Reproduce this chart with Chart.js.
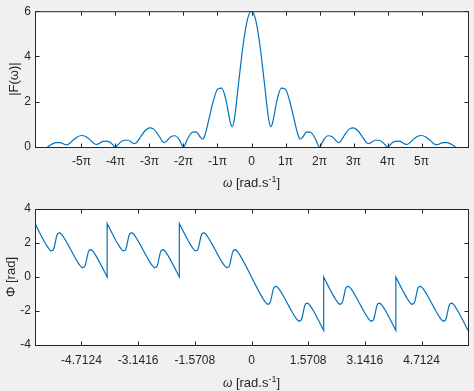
<!DOCTYPE html>
<html>
<head>
<meta charset="utf-8">
<script src="https://cdn.jsdelivr.net/npm/chart.js@4.4.1/dist/chart.umd.min.js"></script>
<style>
  html, body { margin: 0; padding: 0; background: #f0f0f0; }
  #wrap { position: relative; width: 474px; height: 391px; }
  canvas { position: absolute; left: 0; }
</style>
</head>
<body>
<div id="wrap">
  <canvas id="magChart" width="474" height="195" style="top:0px"></canvas>
  <canvas id="phaseChart" width="474" height="196" style="top:195px"></canvas>
</div>
<script>
// top plot: |F(w)|, w given in multiples of pi
const magW = [
  -6, -5.875, -5.75, -5.625, -5.5, -5.433, -5.375, -5.25, -5.125, -5,
  -4.875, -4.75, -4.625, -4.567, -4.5, -4.375, -4.25, -4.125, -4,
  -3.875, -3.75, -3.625, -3.5, -3.433, -3.375, -3.25, -3.125, -3,
  -2.875, -2.75, -2.625, -2.567, -2.5, -2.375, -2.25, -2.125, -2,
  -1.875, -1.75, -1.625, -1.5, -1.433, -1.375, -1.25, -1.125, -1,
  -0.875, -0.75, -0.625, -0.567, -0.5, -0.375, -0.25, -0.125,
  0,
  0.125, 0.25, 0.375, 0.5, 0.567, 0.625, 0.75, 0.875,
  1, 1.125, 1.25, 1.375, 1.433, 1.5, 1.625, 1.75, 1.875,
  2, 2.125, 2.25, 2.375, 2.5, 2.567, 2.625, 2.75, 2.875,
  3, 3.125, 3.25, 3.375, 3.433, 3.5, 3.625, 3.75, 3.875,
  4, 4.125, 4.25, 4.375, 4.5, 4.567, 4.625, 4.75, 4.875,
  5, 5.125, 5.25, 5.375, 5.433, 5.5, 5.625, 5.75, 5.875, 6
];
const magF = [
  0, 0.119, 0.194, 0.192, 0.116, 0.093, 0.128, 0.295, 0.443, 0.509,
  0.466, 0.326, 0.149, 0.111, 0.141, 0.247, 0.263, 0.170, 0,
  0.181, 0.298, 0.298, 0.182, 0.147, 0.204, 0.476, 0.727, 0.849,
  0.790, 0.563, 0.262, 0.197, 0.255, 0.455, 0.497, 0.329, 0,
  0.373, 0.639, 0.665, 0.424, 0.353, 0.500, 1.239, 2.020, 2.547,
  2.597, 2.064, 1.100, 0.891, 1.273, 2.883, 4.473, 5.596,
  6,
  5.596, 4.473, 2.883, 1.273, 0.891, 1.100, 2.064, 2.597,
  2.547, 2.020, 1.239, 0.500, 0.353, 0.424, 0.665, 0.639, 0.373,
  0, 0.329, 0.497, 0.455, 0.255, 0.197, 0.262, 0.563, 0.790,
  0.849, 0.727, 0.476, 0.204, 0.147, 0.182, 0.298, 0.298, 0.181,
  0, 0.170, 0.263, 0.247, 0.141, 0.111, 0.149, 0.326, 0.466,
  0.509, 0.443, 0.295, 0.128, 0.093, 0.116, 0.192, 0.194, 0.119, 0
];
const magTicks = [-5, -4, -3, -2, -1, 0, 1, 2, 3, 4, 5];
const magYTicks = [0, 2, 4, 6];

// bottom plot: phase
const phaseW = [
  -6, -5.9375, -5.875, -5.8125, -5.75, -5.6875, -5.625, -5.5625, -5.5, -5.46875, -5.4375, -5.40625,
  -5.375, -5.3125, -5.25, -5.1875, -5.125, -5.0625, -5, -4.9375, -4.875, -4.8125, -4.75, -4.6875,
  -4.625, -4.59375, -4.5625, -4.53125, -4.5, -4.4375, -4.375, -4.3125, -4.25, -4.1875, -4.125, -4.0625, -4,
  -4, -3.9375, -3.875, -3.8125, -3.75, -3.6875, -3.625, -3.5625, -3.5, -3.46875, -3.4375, -3.40625,
  -3.375, -3.3125, -3.25, -3.1875, -3.125, -3.0625, -3, -2.9375, -2.875, -2.8125, -2.75, -2.6875,
  -2.625, -2.59375, -2.5625, -2.53125, -2.5, -2.4375, -2.375, -2.3125, -2.25, -2.1875, -2.125, -2.0625, -2,
  -2, -1.9375, -1.875, -1.8125, -1.75, -1.6875, -1.625, -1.5625, -1.5, -1.46875, -1.4375, -1.40625,
  -1.375, -1.3125, -1.25, -1.1875, -1.125, -1.0625, -1, -0.9375, -0.875, -0.8125, -0.75, -0.6875,
  -0.625, -0.59375, -0.5625, -0.53125, -0.5, -0.4375, -0.375, -0.3125, -0.25, -0.1875, -0.125, -0.0625, 0,
  0.0625, 0.125, 0.1875, 0.25, 0.3125, 0.375, 0.4375, 0.5, 0.53125, 0.5625, 0.59375,
  0.625, 0.6875, 0.75, 0.8125, 0.875, 0.9375, 1, 1.0625, 1.125, 1.1875, 1.25, 1.3125,
  1.375, 1.40625, 1.4375, 1.46875, 1.5, 1.5625, 1.625, 1.6875, 1.75, 1.8125, 1.875, 1.9375, 2,
  2, 2.0625, 2.125, 2.1875, 2.25, 2.3125, 2.375, 2.4375, 2.5, 2.53125, 2.5625, 2.59375,
  2.625, 2.6875, 2.75, 2.8125, 2.875, 2.9375, 3, 3.0625, 3.125, 3.1875, 3.25, 3.3125,
  3.375, 3.40625, 3.4375, 3.46875, 3.5, 3.5625, 3.625, 3.6875, 3.75, 3.8125, 3.875, 3.9375, 4,
  4, 4.0625, 4.125, 4.1875, 4.25, 4.3125, 4.375, 4.4375, 4.5, 4.53125, 4.5625, 4.59375,
  4.625, 4.6875, 4.75, 4.8125, 4.875, 4.9375, 5, 5.0625, 5.125, 5.1875, 5.25, 5.3125,
  5.375, 5.40625, 5.4375, 5.46875, 5.5, 5.5625, 5.625, 5.6875, 5.75, 5.8125, 5.875, 5.9375, 6
];
const phasePhi = [
  3.142, 2.88, 2.621, 2.365, 2.118, 1.886, 1.682, 1.541, 1.571, 1.735, 2.037, 2.355,
  2.547, 2.606, 2.477, 2.28, 2.055, 1.815, 1.571, 1.326, 1.087, 0.861, 0.665, 0.536,
  0.594, 0.786, 1.105, 1.406, 1.571, 1.601, 1.46, 1.256, 1.023, 0.776, 0.521, 0.261, 0,
  3.142, 2.88, 2.621, 2.365, 2.118, 1.886, 1.682, 1.541, 1.571, 1.735, 2.037, 2.355,
  2.547, 2.606, 2.477, 2.28, 2.055, 1.815, 1.571, 1.326, 1.087, 0.861, 0.665, 0.536,
  0.594, 0.786, 1.105, 1.406, 1.571, 1.601, 1.46, 1.256, 1.023, 0.776, 0.521, 0.261, 0,
  3.142, 2.88, 2.621, 2.365, 2.118, 1.886, 1.682, 1.541, 1.571, 1.735, 2.037, 2.355,
  2.547, 2.606, 2.477, 2.28, 2.055, 1.815, 1.571, 1.326, 1.087, 0.861, 0.665, 0.536,
  0.594, 0.786, 1.105, 1.406, 1.571, 1.601, 1.46, 1.256, 1.023, 0.776, 0.521, 0.261, 0,
  -0.261, -0.521, -0.776, -1.023, -1.256, -1.46, -1.601, -1.571, -1.406, -1.105, -0.786,
  -0.594, -0.536, -0.665, -0.861, -1.087, -1.326, -1.571, -1.815, -2.055, -2.28, -2.477, -2.606,
  -2.547, -2.355, -2.037, -1.735, -1.571, -1.541, -1.682, -1.886, -2.118, -2.365, -2.621, -2.88, -3.142,
  0, -0.261, -0.521, -0.776, -1.023, -1.256, -1.46, -1.601, -1.571, -1.406, -1.105, -0.786,
  -0.594, -0.536, -0.665, -0.861, -1.087, -1.326, -1.571, -1.815, -2.055, -2.28, -2.477, -2.606,
  -2.547, -2.355, -2.037, -1.735, -1.571, -1.541, -1.682, -1.886, -2.118, -2.365, -2.621, -2.88, -3.142,
  0, -0.261, -0.521, -0.776, -1.023, -1.256, -1.46, -1.601, -1.571, -1.406, -1.105, -0.786,
  -0.594, -0.536, -0.665, -0.861, -1.087, -1.326, -1.571, -1.815, -2.055, -2.28, -2.477, -2.606,
  -2.547, -2.355, -2.037, -1.735, -1.571, -1.541, -1.682, -1.886, -2.118, -2.365, -2.621, -2.88, -3.142
];
const phaseTicks = [-4.7124, -3.1416, -1.5708, 0, 1.5708, 3.1416, 4.7124];
const phaseYTicks = [-4, -2, 0, 2, 4];

const FONT = "Helvetica, Arial, 'Liberation Sans', sans-serif";
const INK = '#262626';
const LINE = '#0072BD';

Chart.defaults.font.family = FONT;
Chart.defaults.color = INK;

// white axes, black box, ticks pointing inwards on all four sides, x label
const matlabAxes = {
  id: 'matlabAxes',
  beforeDraw(chart) {
    const { ctx, chartArea: a } = chart;
    ctx.save();
    ctx.fillStyle = '#ffffff';
    ctx.fillRect(a.left, a.top, a.right - a.left + 1, a.bottom - a.top + 1);
    ctx.restore();
  },
  afterDraw(chart, args, opts) {
    const { ctx, chartArea: a, scales } = chart;
    const L = a.left + 0.5, R = a.right + 0.5, T = a.top + 0.5, B = a.bottom + 0.5;
    ctx.save();
    ctx.strokeStyle = INK;
    ctx.lineWidth = 1;
    ctx.beginPath();
    scales.x.ticks.forEach(t => {
      const px = Math.round(scales.x.getPixelForValue(t.value)) + 0.5;
      ctx.moveTo(px, B); ctx.lineTo(px, B - 4);
      ctx.moveTo(px, T); ctx.lineTo(px, T + 4);
    });
    scales.y.ticks.forEach(t => {
      const py = Math.round(scales.y.getPixelForValue(t.value)) + 0.5;
      ctx.moveTo(L, py); ctx.lineTo(L + 4, py);
      ctx.moveTo(R, py); ctx.lineTo(R - 4, py);
    });
    ctx.stroke();
    ctx.strokeRect(L, T, R - L, B - T);

    // x label: omega [rad.s^-1]
    const parts = [
      { t: 'ω', f: 'italic 12px ' + FONT, dy: 0 },
      { t: ' [rad.s', f: '13px ' + FONT, dy: 0 },
      { t: '-1', f: '9px ' + FONT, dy: -5 },
      { t: ']', f: '13px ' + FONT, dy: 0 }
    ];
    let w = 0;
    parts.forEach(p => { ctx.font = p.f; p.w = ctx.measureText(p.t).width; w += p.w; });
    let x = (a.left + a.right) / 2 - w / 2;
    ctx.fillStyle = INK;
    ctx.textBaseline = 'alphabetic';
    parts.forEach(p => {
      ctx.font = p.f;
      ctx.fillText(p.t, x, opts.labelY + p.dy);
      x += p.w;
    });
    ctx.restore();
  }
};

function makeChart(id, cfg) {
  return new Chart(document.getElementById(id), {
    type: 'line',
    data: {
      datasets: [{
        data: cfg.xs.map((x, i) => ({ x: x, y: cfg.ys[i] })),
        borderColor: LINE,
        borderWidth: 1.2,
        pointRadius: 0,
        fill: false,
        tension: 0,
        cubicInterpolationMode: cfg.monotone ? 'monotone' : 'default'
      }]
    },
    options: {
      responsive: false,
      animation: false,
      events: [],
      layout: { padding: { top: cfg.padTop, right: 6, left: 0, bottom: 0 } },
      plugins: {
        legend: { display: false },
        tooltip: { enabled: false },
        matlabAxes: { labelY: cfg.labelY }
      },
      scales: {
        x: {
          type: 'linear',
          min: cfg.xMin,
          max: cfg.xMax,
          grid: { display: false, drawTicks: false },
          border: { display: false },
          afterBuildTicks: s => { s.ticks = cfg.xTicks.map(v => ({ value: v })); },
          afterFit: s => { s.height = cfg.xHeight; },
          ticks: {
            autoSkip: false,
            maxRotation: 0,
            padding: cfg.xTickPad,
            font: { size: 12 },
            color: INK,
            callback: cfg.xLabel
          }
        },
        y: {
          min: cfg.yTicks[0],
          max: cfg.yTicks[cfg.yTicks.length - 1],
          grid: { display: false, drawTicks: false },
          border: { display: false },
          afterBuildTicks: s => { s.ticks = cfg.yTicks.map(v => ({ value: v })); },
          afterFit: s => { s.width = 35; },
          ticks: { padding: 4, font: { size: 12 }, color: INK },
          title: {
            display: true,
            text: cfg.yTitle,
            font: { size: 13 },
            color: INK,
            padding: { top: cfg.yTitlePad, bottom: 0 }
          }
        }
      }
    },
    plugins: [matlabAxes]
  });
}

makeChart('magChart', {
  xs: magW, ys: magF, monotone: true,
  xMin: -20 / Math.PI, xMax: 20 / Math.PI,
  xTicks: magTicks,
  xLabel: v => (v === 0 ? '0' : v + 'π'),
  yTicks: magYTicks,
  yTitle: '|F(ω)|', yTitlePad: 7,
  padTop: 9, xHeight: 48, xTickPad: 7, labelY: 187
});

makeChart('phaseChart', {
  xs: phaseW, ys: phasePhi, monotone: false,
  xMin: -6, xMax: 6,
  xTicks: phaseTicks,
  xLabel: v => String(v),
  yTicks: phaseYTicks,
  yTitle: 'Φ [rad]', yTitlePad: 4,
  padTop: 14, xHeight: 46, xTickPad: 8, labelY: 192
});
</script>
</body>
</html>
